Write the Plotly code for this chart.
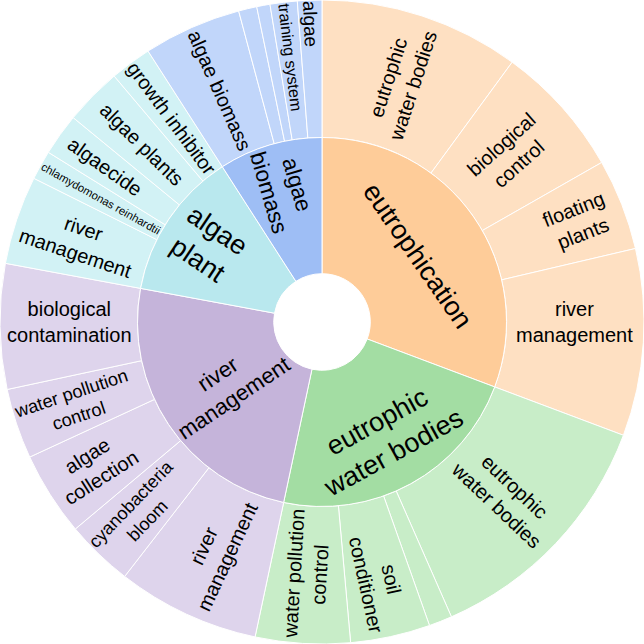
import plotly.graph_objects as go

# Inner ring (topics), clockwise from 12 o'clock
topics = ["eutrophication", "eutrophic water bodies", "river management",
          "algae plant", "algae biomass"]
topic_text = ["eutrophication", "eutrophic<br>water bodies", "river<br>management",
              "algae<br>plant", "algae<br>biomass"]
# label orientation used for each inner label in the reference
topic_orient = ["tangential", "tangential", "radial", "radial", "radial"]
topic_colors = ["#FECC99", "#A3DDA3", "#C5B4DA", "#B9E8EE", "#9EBEF5"]
leaf_colors = ["#FEE0C2", "#C8EDC8", "#DED4EC", "#D2F2F5", "#C1D6FA"]

# Outer ring (keywords) per topic, clockwise
eutro_kw = ["eutrophic<br>water bodies", "biological<br>control", "floating<br>plants",
            "river<br>management"]
eutro_val = [36.2, 24.1, 16.5, 33.8]

ewb_kw = ["eutrophic<br>water bodies", "", "soil<br>conditioner",
          "water pollution<br>control"]
ewb_val = [45.7, 4.2, 14.4, 17.1]

river_kw = ["river<br>management", "cyanobacteria<br>bloom", "algae<br>collection",
            "water pollution<br>control", "biological<br>contamination"]
river_val = [25.8, 12.2, 15.2, 12.7, 22.6]

plant_kw = ["river<br>management", "chlamydomonas reinhardtii", "algaecide",
            "algae plants", "growth inhibitor"]
plant_val = [16.0, 5.3, 7.6, 10.4, 7.5]

biomass_kw = ["algae biomass", "", "", "training system", "algae"]
biomass_val = [17.7, 3.3, 2.4, 4.9, 4.4]

kw_groups = [eutro_kw, ewb_kw, river_kw, plant_kw, biomass_kw]
val_groups = [eutro_val, ewb_val, river_val, plant_val, biomass_val]

# Build outer-ring arrays
out_labels, out_text, out_vals, out_cols = [], [], [], []
for t, kws, vals, col in zip(topics, kw_groups, val_groups, leaf_colors):
    for i, (k, v) in enumerate(zip(kws, vals)):
        name = k.replace("<br>", " ") if k else "other %d" % (i + 1)
        out_labels.append(t + " / " + name)
        out_text.append(k)
        out_vals.append(v)
        out_cols.append(col)

topic_vals = [sum(v) for v in val_groups]

W = 644
R_OUT = 322.0
R_MID = 184.5
R_HOLE = 48.3
half = R_MID / W
font_family = "Liberation Sans, Arial, sans-serif"
inner_dom = dict(x=[0.5 - half, 0.5 + half], y=[0.5 - half, 0.5 + half])

fig = go.Figure()
fig.add_trace(go.Pie(
    labels=out_labels, values=out_vals, text=out_text,
    textinfo="text", textposition="inside", insidetextorientation="radial",
    sort=False, direction="clockwise", rotation=0,
    hole=R_MID / R_OUT,
    marker=dict(colors=out_cols, line=dict(color="white", width=1)),
    textfont=dict(family=font_family, size=20, color="black"),
    domain=dict(x=[0, 1], y=[0, 1]),
    showlegend=False, hoverinfo="label+value",
))
# inner ring: one layer per label orientation (same slices, text only where it applies)
for k, orient in enumerate(["tangential", "radial"]):
    txt = [s if o == orient else "" for s, o in zip(topic_text, topic_orient)]
    fig.add_trace(go.Pie(
        labels=topics, values=topic_vals, text=txt,
        textinfo="text", textposition="inside", insidetextorientation=orient,
        sort=False, direction="clockwise", rotation=0,
        hole=R_HOLE / R_MID,
        marker=dict(colors=topic_colors if k == 0 else ["rgba(0,0,0,0)"] * len(topics),
                    line=dict(color="white", width=1 if k == 0 else 0)),
        textfont=dict(family=font_family, size=27, color="black"),
        domain=inner_dom,
        showlegend=False, hoverinfo="label+value" if k == 0 else "skip",
    ))
fig.update_layout(
    width=W, height=W,
    margin=dict(l=0, r=0, t=0, b=0),
    paper_bgcolor="white", plot_bgcolor="white",
)
fig.write_html("out.html", config={"displayModeBar": False},
               post_script="document.body.style.margin='0';document.body.style.padding='0';")
